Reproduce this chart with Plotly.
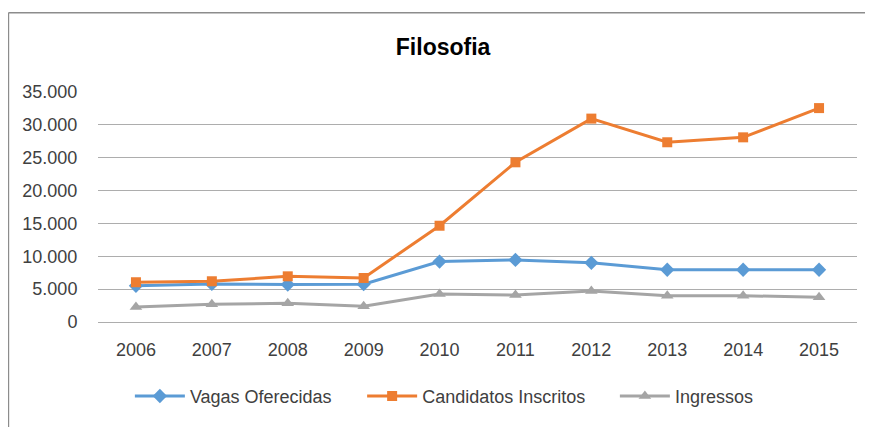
import plotly.graph_objects as go

years = ["2006", "2007", "2008", "2009", "2010", "2011", "2012", "2013", "2014", "2015"]
vagas = [5500, 5800, 5700, 5750, 9200, 9450, 9000, 7950, 7950, 7950]
candidatos = [6050, 6200, 6950, 6700, 14650, 24300, 30950, 27350, 28100, 32550]
ingressos = [2300, 2700, 2850, 2400, 4250, 4100, 4700, 4000, 4000, 3750]
y_ticks = [0, 5000, 10000, 15000, 20000, 25000, 30000, 35000]

FONT = "Liberation Sans, Arial, sans-serif"

fig = go.Figure()
fig.add_trace(go.Scatter(x=years, y=vagas, name="Vagas Oferecidas", mode="lines+markers",
                         legend="legend",
                         line=dict(color="#5B9BD5", width=3),
                         marker=dict(symbol="diamond", size=11, color="#5B9BD5")))
fig.add_trace(go.Scatter(x=years, y=candidatos, name="Candidatos Inscritos", mode="lines+markers",
                         legend="legend2",
                         line=dict(color="#ED7D31", width=3),
                         marker=dict(symbol="square", size=10, color="#ED7D31")))
fig.add_trace(go.Scatter(x=years, y=ingressos, name="Ingressos", mode="lines+markers",
                         legend="legend3",
                         line=dict(color="#A5A5A5", width=3),
                         marker=dict(symbol="triangle-up", size=11, color="#A5A5A5")))

def leg(x):
    return dict(orientation="h", x=x, xanchor="left", y=-0.323, yanchor="middle",
                font=dict(family=FONT, size=18, color="#404040"), itemwidth=50,
                bgcolor="rgba(0,0,0,0)")

fig.update_layout(
    template="none",
    width=865, height=419,
    margin=dict(l=90, r=16, t=84, b=104.5, autoexpand=False),
    paper_bgcolor="white", plot_bgcolor="white",
    separators=",.",
    font=dict(family=FONT, size=18, color="#404040"),
    title=dict(text="<b>Filosofia</b>", x=0.503, xanchor="center", y=1 - 39 / 419, yanchor="middle",
               yref="container", font=dict(family=FONT, size=23, color="#000000")),
    showlegend=True,
    legend=leg(0.042),
    legend2=leg(0.348),
    legend3=leg(0.681),
    xaxis=dict(type="category", range=[-0.5, 9.5], showgrid=False, zeroline=False, showline=False,
               automargin=False, ticks="outside", ticklen=11, tickcolor="rgba(0,0,0,0)",
               tickfont=dict(family=FONT, size=18, color="#404040")),
    yaxis=dict(range=[0, 35000], tickvals=y_ticks, tickformat=",d", showgrid=True,
               gridcolor="#adadad", gridwidth=1, zeroline=True, zerolinecolor="#adadad",
               zerolinewidth=1, showline=False, automargin=False, ticks="outside", ticklen=16,
               tickcolor="rgba(0,0,0,0)", tickfont=dict(family=FONT, size=18, color="#404040")),
    shapes=[
        dict(type="line", xref="paper", yref="paper", x0=-0.118, x1=1.03, y0=1.345, y1=1.345,
             line=dict(color="#8c8c8c", width=1.5)),
        dict(type="line", xref="paper", yref="paper", x0=-0.118, x1=-0.118, y0=1.345, y1=-0.46,
             line=dict(color="#8c8c8c", width=1.5)),
    ],
)

fig.write_html("out.html")
